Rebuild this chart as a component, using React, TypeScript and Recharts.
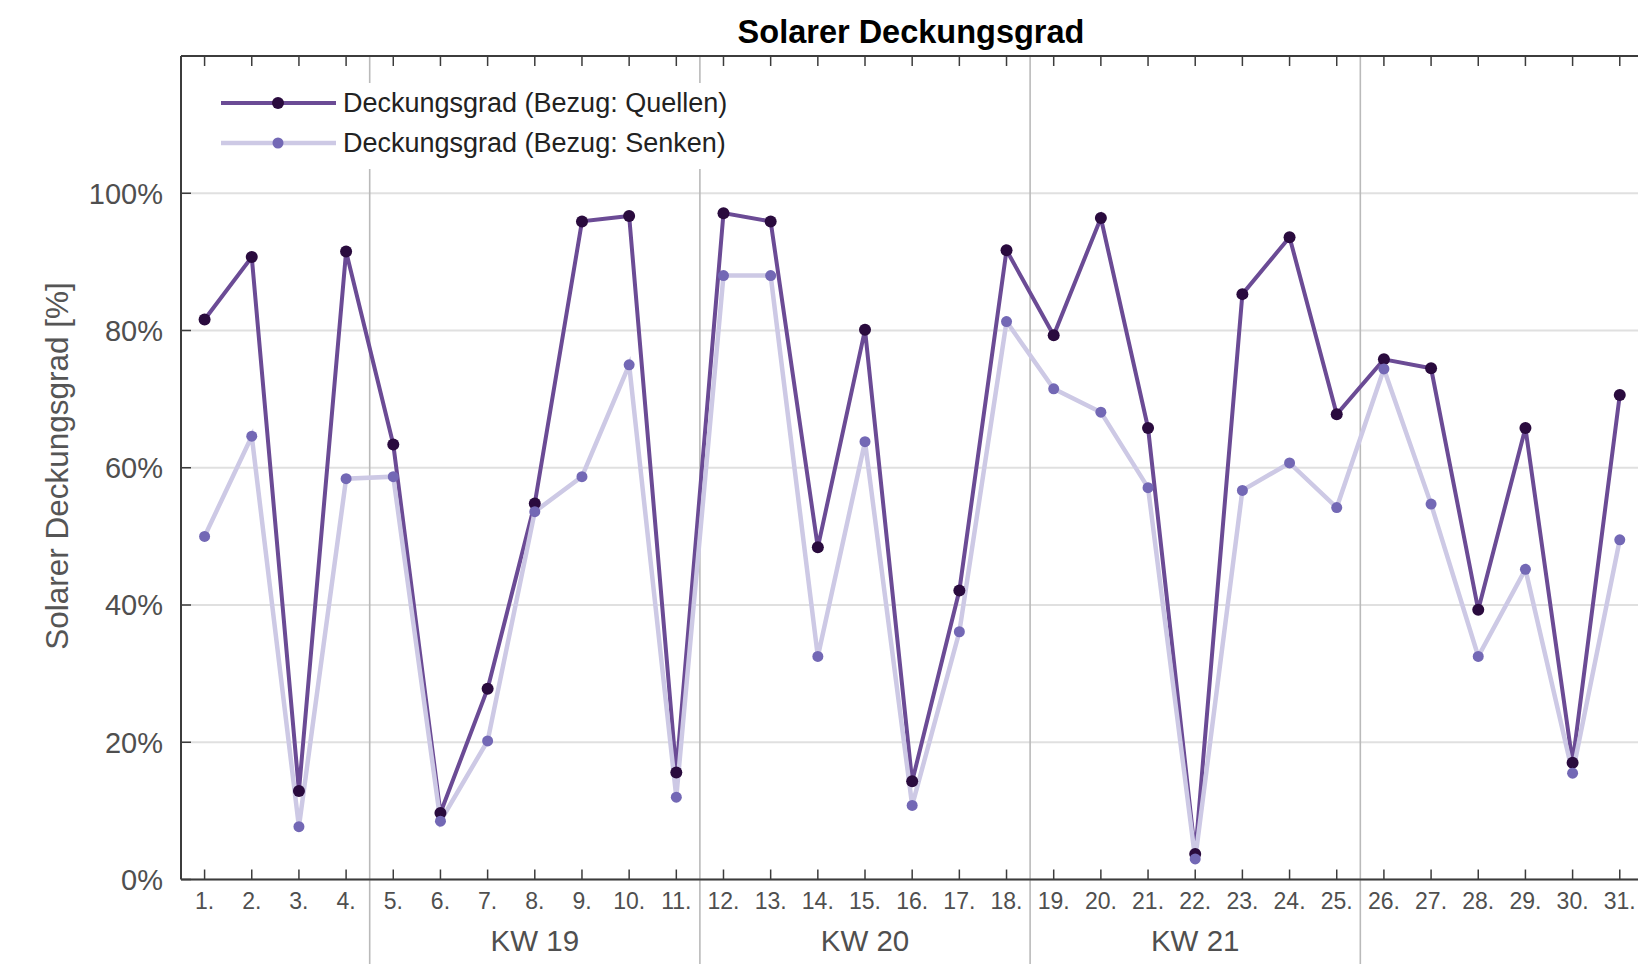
import React from 'react';
import { LineChart, Line, XAxis, YAxis, CartesianGrid, ReferenceLine, Legend } from 'recharts';

// ---------- data ----------
const days = [1, 2, 3, 4, 5, 6, 7, 8, 9, 10, 11, 12, 13, 14, 15, 16, 17, 18, 19, 20, 21, 22, 23, 24, 25, 26, 27, 28, 29, 30, 31];
const quellen = [81.6, 90.7, 12.9, 91.5, 63.4, 9.7, 27.8, 54.8, 95.9, 96.7, 15.6, 97.1, 95.9, 48.4, 80.1, 14.3, 42.1, 91.7, 79.3, 96.4, 65.8, 3.7, 85.3, 93.6, 67.8, 75.8, 74.5, 39.3, 65.8, 17.0, 70.6];
const senken = [50.0, 64.6, 7.7, 58.4, 58.7, 8.5, 20.2, 53.6, 58.7, 75.0, 12.0, 88.0, 88.0, 32.5, 63.8, 10.8, 36.1, 81.3, 71.5, 68.1, 57.1, 3.0, 56.7, 60.7, 54.2, 74.4, 54.7, 32.5, 45.2, 15.5, 49.5];
const yTicks = [0, 20, 40, 60, 80, 100];
const weekBoundaries = [4.5, 11.5, 18.5, 25.5];
const weekLabelPositions = [8, 15, 22];
const weekLabels = ['KW 19', 'KW 20', 'KW 21'];
const seriesNames = ['Deckungsgrad (Bezug: Quellen)', 'Deckungsgrad (Bezug: Senken)'];
const title = 'Solarer Deckungsgrad';
const yLabel = 'Solarer Deckungsgrad [%]';

const data = days.map((d, i) => ({ day: d, quellen: quellen[i], senken: senken[i] }));

// ---------- styles ----------
const W = 1638;
const H = 956;
const X_DOMAIN: [number, number] = [0.5, 31.45];
const FONT = '"Liberation Sans", Arial, Helvetica, sans-serif';
const DARK_LINE = '#6b4b95';
const DARK_DOT = '#2a0b3e';
const LIGHT_LINE = '#cdc9e5';
const LIGHT_DOT = '#7368b5';
const AXIS = '#3c3c3c';
const TICK_TEXT = '#4f4f4f';
const SEP = '#bababa';

const legendItems = [
  { name: seriesNames[0], line: DARK_LINE, dot: DARK_DOT, width: 4, r: 6 },
  { name: seriesNames[1], line: LIGHT_LINE, dot: LIGHT_DOT, width: 4.5, r: 5.5 },
];

const renderLegend = () => (
  <div style={{ background: '#ffffff', width: 555, height: 86, position: 'relative', fontFamily: FONT }}>
    {legendItems.map((it, i) => (
      <div
        key={it.name}
        style={{ position: 'absolute', left: 0, top: 4.5 + 40 * i, height: 30, display: 'flex', alignItems: 'center' }}
      >
        <svg width={138} height={30} style={{ display: 'block' }}>
          <line x1={16} x2={131} y1={15} y2={15} stroke={it.line} strokeWidth={it.width} />
          <circle cx={73} cy={15} r={it.r} fill={it.dot} />
        </svg>
        <span style={{ fontSize: 27, color: '#222222', whiteSpace: 'nowrap', lineHeight: '30px' }}>{it.name}</span>
      </div>
    ))}
  </div>
);

const separatorShape = (p: any) => (
  <line x1={p.x1} x2={p.x2} y1={Math.min(p.y1, p.y2)} y2={H} stroke={SEP} strokeWidth={1.6} />
);

export default function App() {
  return (
    <div style={{ position: 'relative', width: W, height: H, fontFamily: FONT }}>
      <div
        style={{
          position: 'absolute',
          left: 903,
          top: 8,
          transform: 'translateX(-50%)',
          fontSize: 32.5,
          lineHeight: '32.5px',
          fontWeight: 'bold',
          color: '#000',
          whiteSpace: 'nowrap',
          zIndex: 2,
        }}
      >
        {title}
      </div>
      <div
        style={{
          position: 'absolute',
          left: 50,
          top: 458,
          transform: 'translate(-50%, -50%) rotate(-90deg)',
          fontSize: 31.5,
          lineHeight: '31.5px',
          color: '#555555',
          whiteSpace: 'nowrap',
          zIndex: 2,
        }}
      >
        {yLabel}
      </div>
      <LineChart width={W} height={H} data={data} margin={{ top: 18, right: 5, bottom: 0, left: 0 }}>
        <CartesianGrid vertical={false} stroke="#e0e0e0" strokeWidth={2} />
        <XAxis
          dataKey="day"
          type="number"
          domain={X_DOMAIN}
          allowDataOverflow
          ticks={days}
          interval={0}
          tickFormatter={(d: number) => `${d}.`}
          height={40}
          tickSize={-10}
          tickMargin={23.5}
          axisLine={{ stroke: AXIS, strokeWidth: 2 }}
          tickLine={{ stroke: AXIS, strokeWidth: 1.5 }}
          tick={{ fill: TICK_TEXT, fontSize: 23 }}
        />
        <XAxis
          xAxisId="week"
          dataKey="day"
          type="number"
          domain={X_DOMAIN}
          allowDataOverflow
          ticks={weekLabelPositions}
          interval={0}
          tickFormatter={(v: number) => weekLabels[weekLabelPositions.indexOf(v)]}
          height={44.5}
          axisLine={false}
          tickLine={false}
          tickSize={0}
          tickMargin={11}
          tick={{ fill: TICK_TEXT, fontSize: 29.5 }}
        />
        <XAxis
          xAxisId="top"
          orientation="top"
          dataKey="day"
          type="number"
          domain={X_DOMAIN}
          allowDataOverflow
          ticks={days}
          interval={0}
          height={30}
          tickSize={-10}
          axisLine={{ stroke: AXIS, strokeWidth: 2 }}
          tickLine={{ stroke: AXIS, strokeWidth: 1.5 }}
          tick={() => <g />}
        />
        <YAxis
          type="number"
          domain={[0, 120]}
          allowDataOverflow
          ticks={yTicks}
          interval={0}
          tickFormatter={(v: number) => `${v}%`}
          width={173}
          tickSize={-10}
          tickMargin={28}
          axisLine={{ stroke: AXIS, strokeWidth: 2 }}
          tickLine={{ stroke: AXIS, strokeWidth: 1.5 }}
          tick={{ fill: TICK_TEXT, fontSize: 29 }}
        />
        {weekBoundaries.map((x) => (
          <ReferenceLine key={x} x={x} stroke={SEP} strokeWidth={1.6} shape={separatorShape} />
        ))}
        <ReferenceLine x={X_DOMAIN[1]} stroke={AXIS} strokeWidth={2} />
        <Line
          type="linear"
          dataKey="quellen"
          name={seriesNames[0]}
          stroke={DARK_LINE}
          strokeWidth={4}
          dot={{ r: 6, fill: DARK_DOT, stroke: DARK_DOT, strokeWidth: 0 }}
          activeDot={false}
          isAnimationActive={false}
        />
        <Line
          type="linear"
          dataKey="senken"
          name={seriesNames[1]}
          stroke={LIGHT_LINE}
          strokeWidth={4.5}
          dot={{ r: 5.5, fill: LIGHT_DOT, stroke: LIGHT_DOT, strokeWidth: 0 }}
          activeDot={false}
          isAnimationActive={false}
        />
        <Legend
          content={renderLegend}
          layout="vertical"
          align="center"
          verticalAlign="middle"
          wrapperStyle={{ left: 197, top: 75, width: 555, height: 86 }}
        />
      </LineChart>
    </div>
  );
}
